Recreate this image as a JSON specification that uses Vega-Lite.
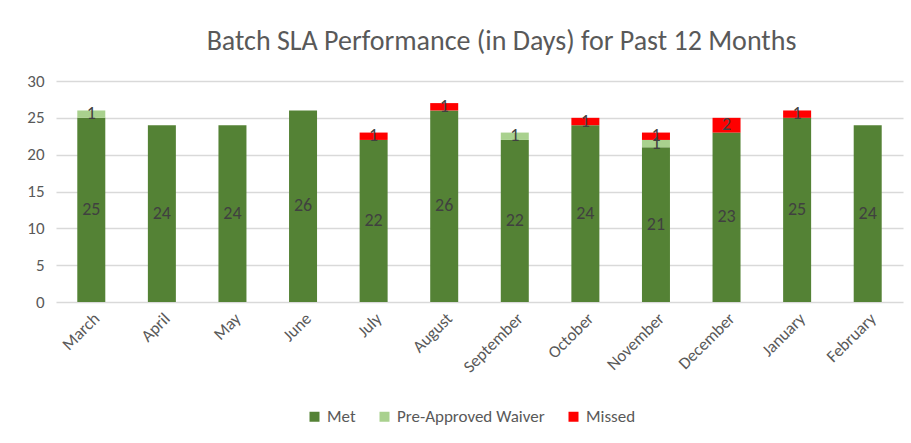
{
  "$schema": "https://vega.github.io/schema/vega-lite/v6.json",
  "width": 847,
  "height": 221,
  "autosize": "none",
  "padding": {"left": 56, "top": 81, "right": 8, "bottom": 141},
  "background": "white",
  "config": {
    "view": {"stroke": null},
    "font": "Carlito, Noto Sans, sans-serif",
    "axis": {"labelFont": "Carlito, Noto Sans, sans-serif", "labelColor": "#595959", "labelFontSize": 17},
    "legend": {"labelFont": "Carlito, Noto Sans, sans-serif", "labelColor": "#595959", "labelFontSize": 17}
  },
  "title": {
    "text": "Batch SLA Performance (in Days) for Past 12 Months",
    "fontSize": 28,
    "fontWeight": "normal",
    "color": "#595959",
    "anchor": "middle",
    "offset": 16,
    "dx": 22
  },
  "data": {
    "values": [
      {"month": "March", "status": "Met", "days": 25},
      {"month": "March", "status": "Pre-Approved Waiver", "days": 1},
      {"month": "April", "status": "Met", "days": 24},
      {"month": "May", "status": "Met", "days": 24},
      {"month": "June", "status": "Met", "days": 26},
      {"month": "July", "status": "Met", "days": 22},
      {"month": "July", "status": "Missed", "days": 1},
      {"month": "August", "status": "Met", "days": 26},
      {"month": "August", "status": "Missed", "days": 1},
      {"month": "September", "status": "Met", "days": 22},
      {"month": "September", "status": "Pre-Approved Waiver", "days": 1},
      {"month": "October", "status": "Met", "days": 24},
      {"month": "October", "status": "Missed", "days": 1},
      {"month": "November", "status": "Met", "days": 21},
      {"month": "November", "status": "Pre-Approved Waiver", "days": 1},
      {"month": "November", "status": "Missed", "days": 1},
      {"month": "December", "status": "Met", "days": 23},
      {"month": "December", "status": "Missed", "days": 2},
      {"month": "January", "status": "Met", "days": 25},
      {"month": "January", "status": "Missed", "days": 1},
      {"month": "February", "status": "Met", "days": 24}
    ]
  },
  "transform": [
    {"calculate": "indexof(['Met','Pre-Approved Waiver','Missed'], datum.status)", "as": "ord"},
    {"stack": "days", "groupby": ["month"], "sort": [{"field": "ord", "order": "ascending"}], "as": ["y0", "y1"]},
    {"calculate": "(datum.y0 + datum.y1) / 2", "as": "ymid"}
  ],
  "encoding": {
    "x": {
      "field": "month",
      "type": "nominal",
      "sort": ["March","April","May","June","July","August","September","October","November","December","January","February"],
      "axis": {"title": null, "labelAngle": -45, "ticks": false, "domain": false, "labelPadding": 8},
      "scale": {"paddingInner": 0.6, "paddingOuter": 0.3}
    }
  },
  "layer": [
    {
      "mark": {"type": "bar", "size": 28},
      "encoding": {
        "y": {
          "field": "y0",
          "type": "quantitative",
          "scale": {"domain": [0, 30]},
          "axis": {"title": null, "values": [0,5,10,15,20,25,30], "ticks": false, "domain": false, "grid": true, "gridColor": "#d9d9d9", "gridWidth": 1.5, "labelPadding": 12}
        },
        "y2": {"field": "y1"},
        "color": {
          "field": "status",
          "type": "nominal",
          "scale": {"domain": ["Met", "Pre-Approved Waiver", "Missed"], "range": ["#548235", "#A9D18E", "#FF0000"]},
          "legend": {"title": null, "orient": "none", "legendX": 250, "legendY": 327, "direction": "horizontal", "symbolType": "square", "symbolSize": 100, "symbolStrokeWidth": 0, "columnPadding": 20, "labelOffset": 4}
        },
        "order": {"field": "ord"}
      }
    },
    {
      "mark": {"type": "text", "fontSize": 18, "color": "#404040", "baseline": "middle"},
      "encoding": {
        "y": {
          "field": "ymid",
          "type": "quantitative",
          "scale": {"domain": [0, 30]},
          "axis": {"title": null, "values": [0,5,10,15,20,25,30], "ticks": false, "domain": false, "grid": true, "gridColor": "#d9d9d9", "gridWidth": 1.5, "labelPadding": 12}
        },
        "text": {"field": "days", "type": "quantitative"}
      }
    }
  ]
}
